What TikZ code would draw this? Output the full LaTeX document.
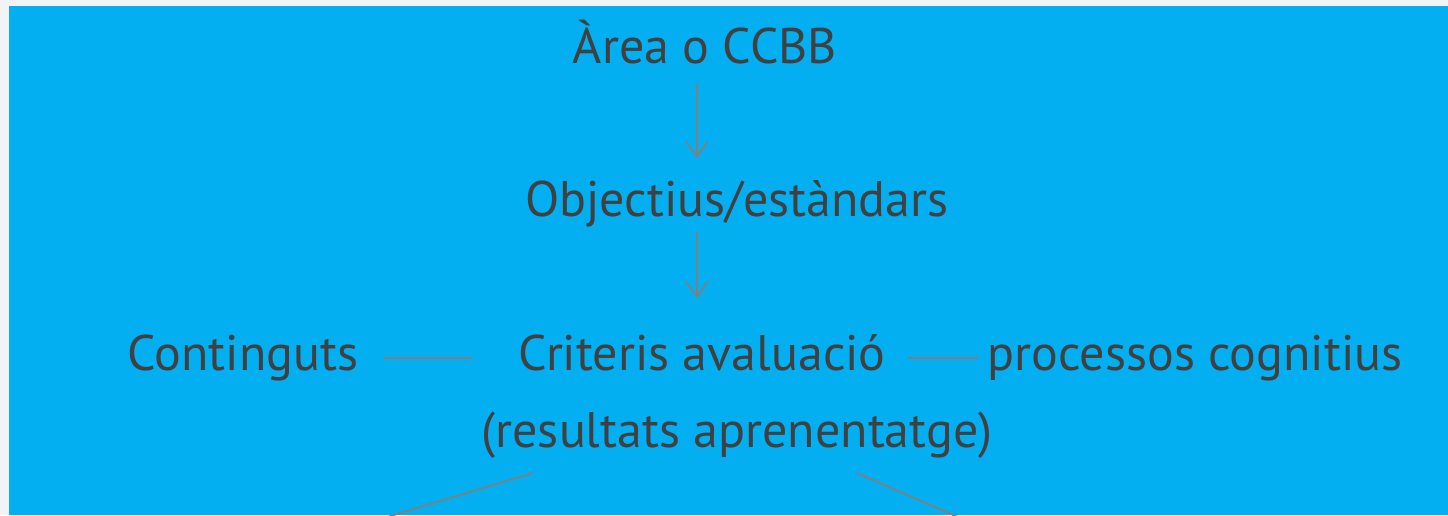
\documentclass[tikz,border=0pt]{standalone}
\usepackage{fontspec}
\setmainfont{PT Sans}
\usetikzlibrary{arrows.meta}
\definecolor{bgblue}{HTML}{03AFF0}
\definecolor{edge}{HTML}{F1F3F5}
\definecolor{txt}{HTML}{404040}
\definecolor{ln}{HTML}{7F7F7F}
\tikzset{
  lbl/.style={anchor=base, inner sep=0pt, text=txt, font=\fontsize{50}{54}\selectfont},
  conn/.style={draw=ln, line width=1.8pt},
  arr/.style={conn, -{Straight Barb[length=15pt,width=22pt,line width=1.8pt]}}
}
\begin{document}
\begin{tikzpicture}[x=1pt,y=-1pt]
\useasboundingbox (0,0) rectangle (1448,515);
\fill[edge] (0,0) rectangle (1448,515);
\fill[bgblue] (9,6) rectangle (1448,515);
\clip (0,0) rectangle (1448,515);
\node[lbl] (area) at (705,63) {Àrea o CCBB};
\node[lbl] (obj) at (737,216) {Objectius/estàndars};
\node[lbl] (cont) at (243,370) {Continguts};
\node[lbl] (crit) at (702,370) {Criteris avaluació};
\node[lbl] (proc) at (1195,370) {processos cognitius};
\node[lbl] (res) at (737,447) {(resultats aprenentatge)};
\coordinate (a1s) at (697,83);
\coordinate (a1e) at (697,158);
\coordinate (a2s) at (697,232);
\coordinate (a2e) at (697,298);
\draw[arr] (a1s) -- (a1e);
\draw[arr] (a2s) -- (a2e);
\coordinate (l1s) at (384,358);
\coordinate (l1e) at (473,358);
\coordinate (l2s) at (908,358);
\coordinate (l2e) at (978,358);
\draw[conn] (l1s) -- (l1e);
\draw[conn] (l2s) -- (l2e);
\coordinate (d1s) at (533,473);
\coordinate (d1e) at (384,518);
\coordinate (d2s) at (857,473);
\coordinate (d2e) at (960,518);
\draw[conn] (d1s) -- (d1e);
\draw[conn] (d2s) -- (d2e);
\end{tikzpicture}
\end{document}
